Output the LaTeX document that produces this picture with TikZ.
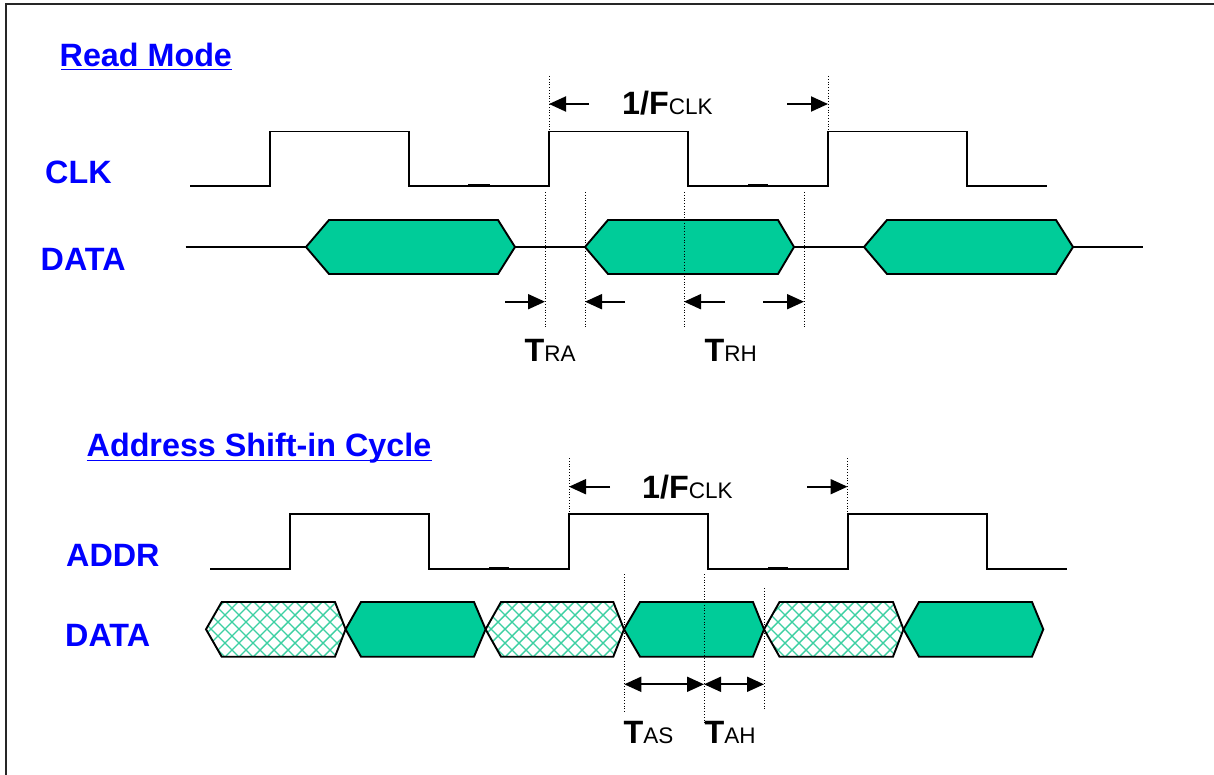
\documentclass[tikz,border=0pt]{standalone}
\usepackage{fontspec}
\setmainfont{Liberation Sans}
\usetikzlibrary{arrows.meta,calc}
\definecolor{wavegreen}{RGB}{0,204,153}
\definecolor{hatchgreen}{RGB}{60,208,162}
\definecolor{lblblue}{RGB}{0,0,255}
\newcommand{\bigtxt}{\fontsize{32.3}{36}\selectfont\bfseries}
\newcommand{\smalltxt}{\fontsize{22.5}{26}\selectfont\mdseries}
\tikzset{
  wave/.style={line width=1.8pt, line join=miter},
  glitch/.style={line width=3pt},
  hexsolid/.style={draw=black, line width=1.9pt, fill=wavegreen, line join=miter},
  hexhatch/.style={draw=black, line width=1.9pt, line join=miter},
  hatchline/.style={hatchgreen, line width=1.4pt},
  guide/.style={line width=0.9pt, dash pattern=on 1pt off 1.8pt},
  dimarrow/.style={line width=1.9pt, -{Triangle[length=17pt,width=15pt]}},
  dimboth/.style={line width=1.9pt, {Triangle[length=17pt,width=15pt]}-{Triangle[length=17pt,width=15pt]}},
  bluelbl/.style={anchor=base west, inner sep=0pt, text=lblblue, font=\bigtxt},
  timelbl/.style={anchor=base west, inner sep=0pt, text=black},
  uline/.style={lblblue, line width=1.5pt}
}
\begin{document}
\begin{tikzpicture}[x=1pt,y=-1pt]
\useasboundingbox (0,0) rectangle (1214,775);
\clip (0,0) rectangle (1214,775);
\fill[white] (0,0) rectangle (1214,775);
% frame
\draw[line width=1.6pt, black!85] (6,4) rectangle (1240,800);

% ---------------- Read Mode ----------------
\node[bluelbl] (readmode) at (59.5,66.7) {Read Mode};
\draw[uline] ($(readmode.base west)+(1.5,3)$) -- ($(readmode.base east)+(0,3)$);
\node[bluelbl] (clklbl) at (45,183.3) {CLK};
\node[bluelbl] (datalbl1) at (40.5,270.7) {DATA};

% CLK waveform
\draw[wave] (190,186) -- (270,186) -- (270,131.5) -- (409,131.5) -- (409,186) -- (549,186)
  -- (549,131.5) -- (688,131.5) -- (688,186) -- (828,186) -- (828,131.5) -- (967,131.5)
  -- (967,186) -- (1047,186);
\draw[glitch] (468,185.6) -- (490,185.6);
\draw[glitch] (748,185.6) -- (768,185.6);

% DATA waveform (top)
\draw[wave] (185.7,247) -- (306,247);
\draw[wave] (515,247) -- (585,247);
\draw[wave] (794,247) -- (864,247);
\draw[wave] (1073,247) -- (1143,247);
\draw[hexsolid] (306,247) -- (329,220) -- (498,220) -- (515,247) -- (498,274) -- (329,274) -- cycle;
\draw[hexsolid] (585,247) -- (608,220) -- (778,220) -- (794,247) -- (778,274) -- (608,274) -- cycle;
\draw[hexsolid] (864,247) -- (887,220) -- (1056,220) -- (1073,247) -- (1056,274) -- (887,274) -- cycle;

% guides top
\draw[guide] (549,76) -- (549,131);
\draw[guide] (828,76) -- (828,131);
\draw[guide] (545,192) -- (545,328);
\draw[guide] (585,192) -- (585,328);
\draw[guide] (684,192) -- (684,328);
\draw[guide] (804,192) -- (804,328);

% period arrows top
\coordinate (pa1) at (589,104); \coordinate (pa1t) at (549,104);
\coordinate (pb1) at (787,104); \coordinate (pb1t) at (828,104);
\draw[dimarrow] (pa1) -- (pa1t);
\draw[dimarrow] (pb1) -- (pb1t);
\node[timelbl] (per1) at (622,115) {{\bigtxt 1/F}{\smalltxt CLK}};

% TRA / TRH arrows
\coordinate (ra1) at (505,301.7); \coordinate (ra1t) at (545,301.7);
\coordinate (ra2) at (625,301.7); \coordinate (ra2t) at (585,301.7);
\coordinate (rh1) at (725,301.7); \coordinate (rh1t) at (684,301.7);
\coordinate (rh2) at (763,301.7); \coordinate (rh2t) at (804,301.7);
\draw[dimarrow] (ra1) -- (ra1t);
\draw[dimarrow] (ra2) -- (ra2t);
\draw[dimarrow] (rh1) -- (rh1t);
\draw[dimarrow] (rh2) -- (rh2t);
\node[timelbl] (tra) at (524.5,361.7) {{\bigtxt T}{\smalltxt RA}};
\node[timelbl] (trh) at (704.5,361.7) {{\bigtxt T}{\smalltxt RH}};

% ---------------- Address Shift-in Cycle ----------------
\node[bluelbl] (addrtitle) at (86.5,456) {Address Shift-in Cycle};
\draw[uline] ($(addrtitle.base west)+(0,4.5)$) -- ($(addrtitle.base east)+(0,4.5)$);
\node[bluelbl] (addrlbl) at (66,566) {ADDR};
\node[bluelbl] (datalbl2) at (65,646.7) {DATA};

% ADDR waveform
\draw[wave] (210,569) -- (290,569) -- (290,514) -- (429,514) -- (429,569) -- (569,569)
  -- (569,514) -- (708,514) -- (708,569) -- (848,569) -- (848,514) -- (987,514)
  -- (987,569) -- (1067,569);
\draw[glitch] (489,568.6) -- (509,568.6);
\draw[glitch] (768,568.6) -- (788,568.6);

% hatched hexes
\begin{scope}
  \clip (206,629.3) -- (221.7,602) -- (335,602) -- (345.6,629.3) -- (335,656.7) -- (221.7,656.7) -- cycle
        (485.6,629.3) -- (501,602) -- (613.3,602) -- (624,629.3) -- (613.3,656.7) -- (501,656.7) -- cycle
        (764,629.3) -- (779.5,602) -- (893,602) -- (903.5,629.3) -- (893,656.7) -- (779.5,656.7) -- cycle;
  \foreach \xx in {122,136,...,968} {
    \draw[hatchline] (\xx,596) -- ++(66,66);
    \draw[hatchline] (\xx,662) -- ++(66,-66);
  }
\end{scope}
\draw[hexhatch] (206,629.3) -- (221.7,602) -- (335,602) -- (345.6,629.3) -- (335,656.7) -- (221.7,656.7) -- cycle;
\draw[hexhatch] (485.6,629.3) -- (501,602) -- (613.3,602) -- (624,629.3) -- (613.3,656.7) -- (501,656.7) -- cycle;
\draw[hexhatch] (764,629.3) -- (779.5,602) -- (893,602) -- (903.5,629.3) -- (893,656.7) -- (779.5,656.7) -- cycle;
% solid hexes
\draw[hexsolid] (345.6,629.3) -- (361,602) -- (474,602) -- (485.6,629.3) -- (474,656.7) -- (361,656.7) -- cycle;
\draw[hexsolid] (624,629.3) -- (640,602) -- (753,602) -- (764,629.3) -- (753,656.7) -- (640,656.7) -- cycle;
\draw[hexsolid] (903.5,629.3) -- (919,602) -- (1032,602) -- (1043.3,629.3) -- (1032,656.7) -- (919,656.7) -- cycle;

% guides bottom
\draw[guide] (569,458) -- (569,514);
\draw[guide] (847.5,458) -- (847.5,514);
\draw[guide] (624.3,574) -- (624.3,712);
\draw[guide] (704,574) -- (704,723);
\draw[guide] (764,588) -- (764,709);

% period arrows bottom
\coordinate (pa2) at (610,486.7); \coordinate (pa2t) at (569,486.7);
\coordinate (pb2) at (807,486.7); \coordinate (pb2t) at (847.5,486.7);
\draw[dimarrow] (pa2) -- (pa2t);
\draw[dimarrow] (pb2) -- (pb2t);
\node[timelbl] (per2) at (642,498) {{\bigtxt 1/F}{\smalltxt CLK}};

% TAS / TAH arrows
\coordinate (as1) at (624.3,684.3); \coordinate (as2) at (704,684.3); \coordinate (ah2) at (764,684.3);
\draw[dimboth] (as1) -- (as2);
\draw[dimboth] (as2) -- (ah2);
\node[timelbl] (tas) at (623.5,743) {{\bigtxt T}{\smalltxt AS}};
\node[timelbl] (tah) at (704.5,743) {{\bigtxt T}{\smalltxt AH}};
\end{tikzpicture}
\end{document}
